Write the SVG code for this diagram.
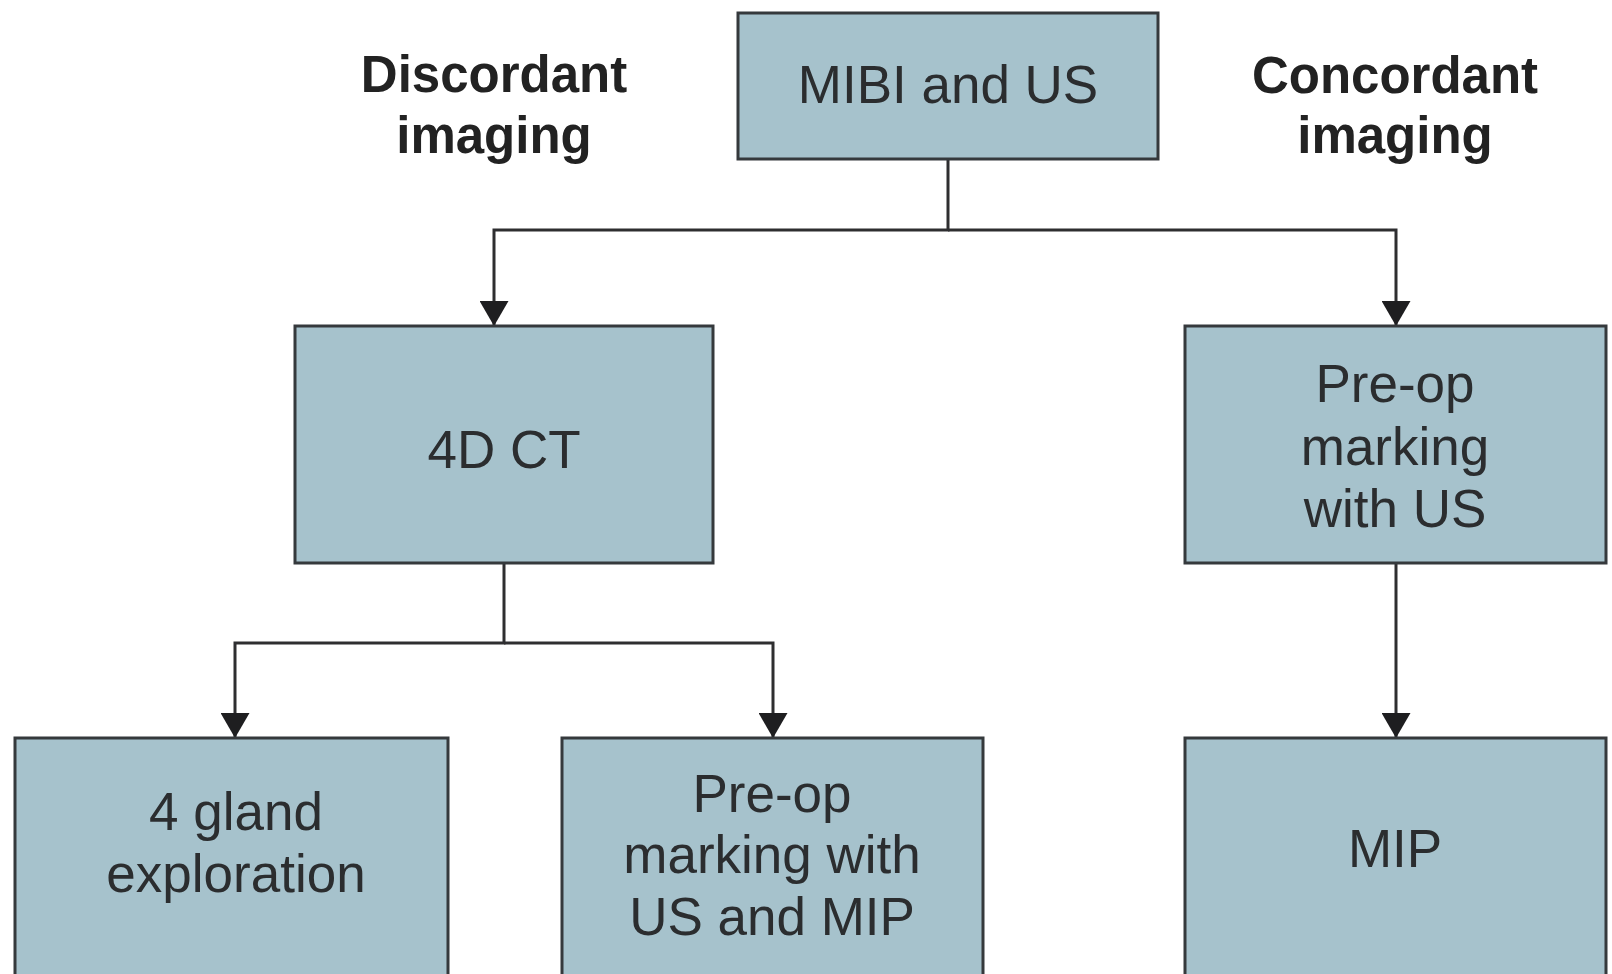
<svg xmlns="http://www.w3.org/2000/svg" width="1612" height="974" viewBox="0 0 1612 974">
  <defs>
    <style>
      .box { fill: #a6c2cc; stroke: #35393c; stroke-width: 3; }
      .lbl { font-family: "Liberation Sans", Arial, sans-serif; font-size: 53px; fill: #2b2d2f; text-anchor: middle; }
      .hdr { font-family: "Liberation Sans", Arial, sans-serif; font-size: 51px; font-weight: bold; fill: #222; text-anchor: middle; }
      .conn { fill: none; stroke: #2e2e30; stroke-width: 3; }
    </style>
    <marker id="arrow" markerUnits="userSpaceOnUse" markerWidth="25" markerHeight="29" viewBox="0 0 25 29" refX="25" refY="14.5" orient="auto">
      <path d="M0,0 L25,14.5 L0,29 Z" fill="#1e1e20"/>
    </marker>
  </defs>
  <rect width="1612" height="974" fill="#ffffff"/>

  <g id="header-discordant">
    <text class="hdr" x="494" y="92">Discordant</text>
    <text class="hdr" x="494" y="153">imaging</text>
  </g>
  <g id="header-concordant">
    <text class="hdr" x="1395" y="93">Concordant</text>
    <text class="hdr" x="1395" y="153">imaging</text>
  </g>

  <g id="connectors">
    <path class="conn" d="M948 159 V230 H494 V326" marker-end="url(#arrow)"/>
    <path class="conn" d="M948 230 H1396 V326" marker-end="url(#arrow)"/>
    <path class="conn" d="M504 563 V643 H235 V738" marker-end="url(#arrow)"/>
    <path class="conn" d="M504 643 H773 V738" marker-end="url(#arrow)"/>
    <path class="conn" d="M1396 563 V738" marker-end="url(#arrow)"/>
  </g>

  <g id="node-mibi-us">
    <rect class="box" x="738" y="13" width="420" height="146"/>
    <text class="lbl" x="948" y="103" font-size="54">MIBI and US</text>
  </g>
  <g id="node-4dct">
    <rect class="box" x="295" y="326" width="418" height="237"/>
    <text class="lbl" x="504" y="468">4D CT</text>
  </g>
  <g id="node-preop-us">
    <rect class="box" x="1185" y="326" width="421" height="237"/>
    <text class="lbl" x="1395" y="402">Pre-op</text>
    <text class="lbl" x="1395" y="465">marking</text>
    <text class="lbl" x="1395" y="527">with US</text>
  </g>
  <g id="node-4gland">
    <rect class="box" x="15" y="738" width="433" height="260"/>
    <text class="lbl" x="236" y="830">4 gland</text>
    <text class="lbl" x="236" y="892">exploration</text>
  </g>
  <g id="node-preop-us-mip">
    <rect class="box" x="562" y="738" width="421" height="260"/>
    <text class="lbl" x="772" y="812">Pre-op</text>
    <text class="lbl" x="772" y="873">marking with</text>
    <text class="lbl" x="772" y="935">US and MIP</text>
  </g>
  <g id="node-mip">
    <rect class="box" x="1185" y="738" width="421" height="260"/>
    <text class="lbl" x="1395" y="867">MIP</text>
  </g>
</svg>
